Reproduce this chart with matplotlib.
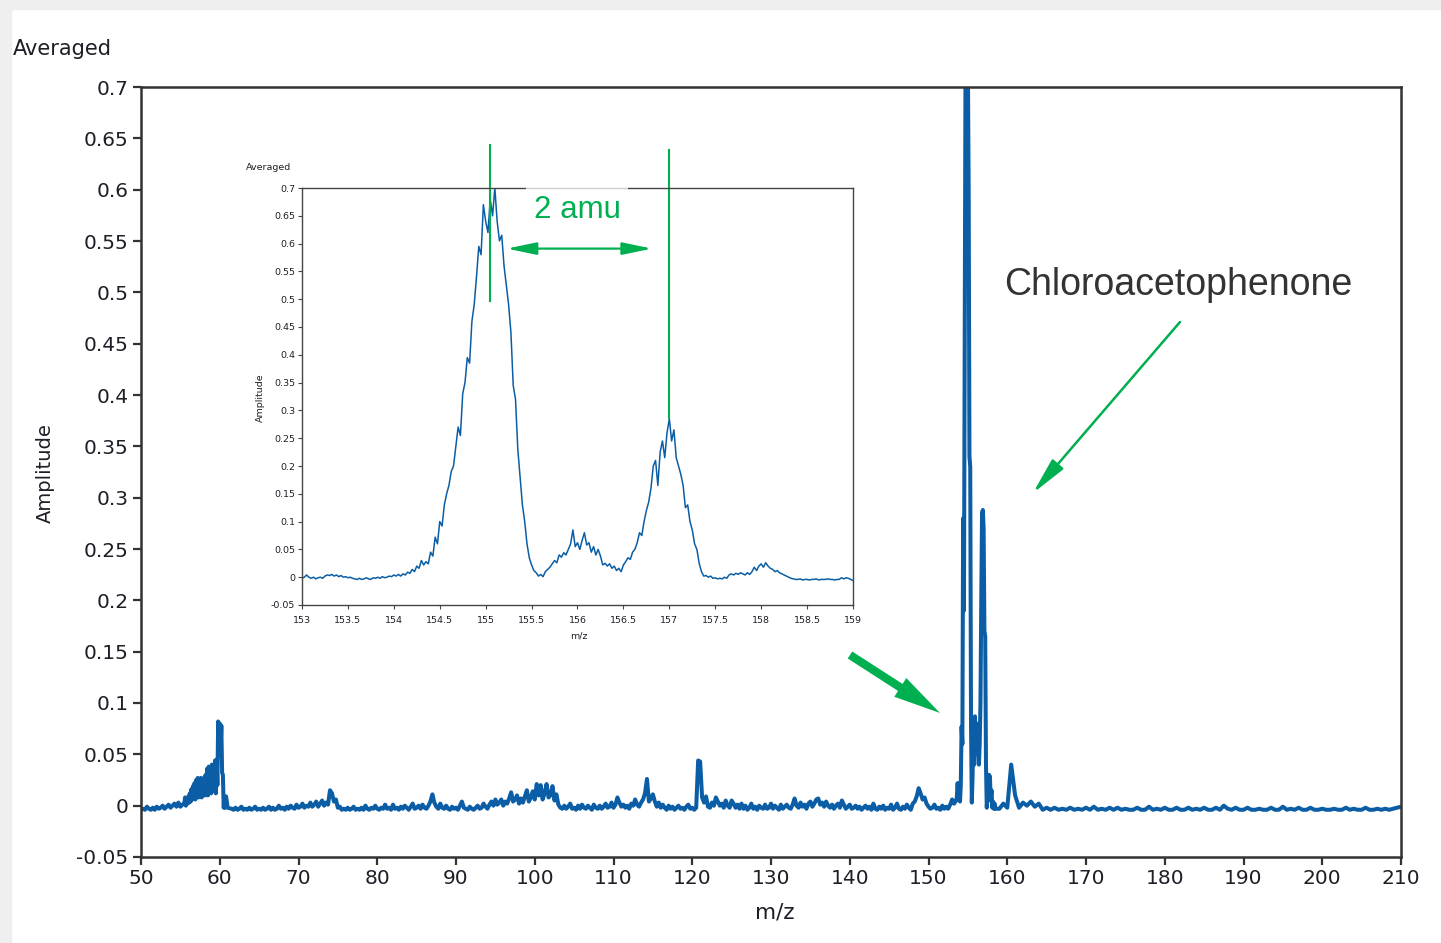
import numpy as np
import matplotlib
matplotlib.use("Agg")
import matplotlib.pyplot as plt
from matplotlib.patches import Rectangle, FancyArrowPatch
from matplotlib.ticker import FuncFormatter, MultipleLocator

# ---- main spectrum in pieces ----
# 50 .. 55.25, step 0.25
seg_a = [-0.004, -0.003, -0.004, -0.001, -0.003, -0.004, -0.002, -0.004, -0.001, -0.003,
         -0.002, 0.000, -0.003, -0.001, 0.001, -0.002, 0.000, 0.002, -0.001, 0.003,
         -0.001, 0.001]
# 55.5 .. 61.0, step 0.1 (hump + peak near 60)
seg_b = [0.002, 0.008, 0.000, 0.006, 0.002, 0.009, 0.003, 0.012, 0.004, 0.016,
         0.006, 0.019, 0.008, 0.022, 0.006, 0.025, 0.010, 0.027, 0.008, 0.026,
         0.012, 0.027, 0.008, 0.025, 0.012, 0.027, 0.010, 0.030, 0.014, 0.036,
         0.010, 0.038, 0.016, 0.034, 0.012, 0.040, 0.014, 0.032, 0.016, 0.044,
         0.012, 0.045, 0.020, 0.082, 0.060, 0.080, 0.050, 0.078, 0.032, 0.030,
         -0.002, 0.006, -0.002, 0.009, 0.004, -0.002]
# 61.5 .. 153.5, step 0.25
seg_c = [
    -0.003, -0.004, -0.002, -0.004, -0.003, -0.001, -0.004, -0.003, -0.004, -0.002,
    -0.004, -0.003, -0.001, -0.004, -0.003, -0.004, -0.002, -0.004, -0.003, -0.001,
    -0.004, -0.002, -0.004, -0.003, 0.000, -0.003, -0.002, -0.004, -0.001, -0.003,
    0.000, -0.002, -0.003, 0.001, -0.002, -0.001, 0.002, -0.002, 0.000, -0.001,
    0.003, -0.001, 0.001, 0.004, -0.001, 0.002, 0.005, 0.000, 0.003, 0.001,
    0.015, 0.012, 0.004, 0.006, -0.002, -0.001, -0.004, -0.003, -0.004, -0.002,
    -0.004, -0.003, -0.001, -0.004, -0.003, -0.004, -0.002, -0.004, 0.000, -0.003,
    -0.004, -0.002, -0.003, 0.000, -0.003, -0.004, -0.002, -0.003, 0.001, -0.003,
    -0.002, -0.004, 0.001, -0.003, -0.002, -0.004, -0.001, -0.003, 0.000, -0.002,
    -0.004, -0.001, 0.002, -0.003, -0.002, 0.000, -0.003, 0.001, -0.002, -0.003,
    0.000, 0.004, 0.011, 0.003, -0.001, -0.003, 0.002, -0.002, -0.003, 0.000,
    -0.003, -0.004, -0.001, -0.003, -0.002, -0.004, 0.000, 0.004, -0.002, -0.003,
    -0.004, -0.001, -0.003, -0.004, -0.002, 0.000, -0.003, -0.002, 0.002, -0.001,
    -0.003, 0.001, 0.004, 0.000, 0.006, 0.001, 0.003, 0.006, 0.000, 0.004,
    0.002, 0.007, 0.013, 0.004, 0.006, 0.010, 0.002, 0.007, 0.003, 0.009,
    0.015, 0.004, 0.008, 0.014, 0.006, 0.021, 0.010, 0.020, 0.006, 0.012,
    0.021, 0.008, 0.010, 0.019, 0.005, 0.011, 0.001, -0.002, -0.003, 0.000,
    -0.003, -0.001, 0.002, -0.003, -0.002, -0.004, 0.000, -0.003, 0.001, -0.002,
    -0.003, 0.000, -0.002, -0.004, 0.001, -0.002, -0.003, 0.000, -0.003, -0.001,
    0.002, -0.002, -0.001, 0.003, -0.002, 0.001, 0.008, 0.003, -0.001, 0.001,
    -0.002, 0.000, -0.003, 0.002, 0.000, 0.006, 0.001, -0.001, 0.003, 0.006,
    0.012, 0.026, 0.004, 0.007, 0.011, 0.004, -0.001, 0.003, -0.002, 0.001,
    -0.002, -0.004, 0.000, -0.003, -0.001, -0.004, -0.002, 0.000, -0.003, -0.002,
    -0.004, -0.001, 0.001, -0.003, -0.002, -0.004, -0.002, 0.044, 0.043, 0.008,
    0.003, 0.009, -0.001, -0.002, 0.003, 0.000, 0.008, 0.004, 0.000, 0.002,
    -0.002, 0.005, 0.000, -0.002, 0.005, 0.002, -0.002, 0.001, -0.003, 0.002,
    -0.003, 0.000, -0.004, -0.002, 0.002, -0.003, -0.001, -0.004, 0.000, -0.002,
    -0.003, 0.001, -0.003, -0.002, 0.002, -0.003, 0.000, -0.002, -0.004, 0.001,
    -0.003, -0.001, 0.001, -0.002, -0.003, 0.001, 0.007, 0.000, -0.002, 0.003,
    -0.001, 0.001, -0.003, 0.002, 0.004, -0.001, 0.002, 0.006, 0.007, 0.001,
    0.003, -0.001, 0.004, 0.000, -0.002, 0.001, -0.003, 0.000, 0.002, -0.002,
    0.005, 0.001, -0.003, -0.001, 0.001, -0.003, -0.002, 0.000, -0.003, -0.001,
    -0.004, -0.002, 0.000, -0.003, -0.001, -0.004, 0.002, -0.003, -0.004, -0.001,
    -0.003, 0.000, -0.004, -0.002, -0.003, 0.001, -0.004, -0.002, 0.002, -0.003,
    -0.004, -0.001, -0.003, 0.001, -0.002, -0.004, 0.002, 0.004, 0.009, 0.017,
    0.012, 0.006, 0.008, 0.002, -0.001, -0.003, -0.002, 0.001, -0.003, -0.002,
    -0.004, 0.000, -0.003, -0.001, -0.003, 0.001, 0.006, 0.002, 0.005]
# 153.6 .. 158.5, step 0.1 (chloroacetophenone cluster)
seg_d = [0.008, 0.022, 0.006, 0.010, 0.004, 0.020, 0.077, 0.060, 0.280, 0.190,
         0.450, 0.720, 0.720, 0.700, 0.720, 0.600, 0.340, 0.330, 0.080, 0.003,
         0.030, 0.085, 0.040, 0.087, 0.060, 0.080, 0.050, 0.064, 0.040, 0.060,
         0.100, 0.200, 0.285, 0.288, 0.270, 0.170, 0.165, 0.040, -0.002, 0.010,
         0.005, 0.030, 0.028, 0.006, 0.015, -0.002, 0.004, -0.003, 0.002, -0.003]
# 159 .. 210, step 0.5
seg_e = [-0.003, 0.002, -0.002, 0.040, 0.010, -0.002, 0.003, 0.000, 0.004, -0.001,
         0.002, -0.004, -0.002, -0.004, -0.002, -0.004, -0.003, -0.004, -0.002, -0.004,
         -0.003, -0.004, -0.002, -0.004, -0.001, -0.004, -0.003, -0.004, -0.002, -0.004,
         -0.002, -0.004, -0.003, -0.004, -0.004, -0.002, -0.004, -0.004, -0.001, -0.004,
         -0.003, -0.004, -0.002, -0.004, -0.004, -0.002, -0.004, -0.004, -0.002, -0.004,
         -0.003, -0.004, -0.002, -0.004, -0.004, -0.002, -0.004, 0.000, -0.003, -0.004,
         -0.002, -0.004, -0.004, -0.002, -0.004, -0.004, -0.003, -0.004, -0.004, -0.002,
         -0.004, -0.004, -0.001, -0.004, -0.003, -0.004, -0.002, -0.004, -0.004, -0.002,
         -0.004, -0.004, -0.003, -0.004, -0.004, -0.003, -0.004, -0.004, -0.002, -0.004,
         -0.003, -0.004, -0.004, -0.002, -0.004, -0.004, -0.003, -0.004, -0.003, -0.004,
         -0.003, -0.002, -0.001]

# ---- inset: 153 .. 159, step 0.025 ----
inset_amp = [
    -0.002, 0.000, 0.004, 0.000, -0.002, 0.000, -0.003, -0.001,
    0.000, -0.002, 0.002, 0.004, 0.003, 0.005, 0.002, 0.004,
    0.001, 0.003, 0.000, 0.001, -0.001, 0.000, -0.002, -0.003,
    -0.004, -0.002, -0.004, -0.003, -0.001, -0.003, -0.004, -0.001,
    -0.002, 0.000, -0.002, 0.001, -0.001, 0.000, 0.002, 0.001,
    0.004, 0.002, 0.005, 0.002, 0.006, 0.004, 0.009, 0.007,
    0.014, 0.010, 0.020, 0.016, 0.030, 0.022, 0.028, 0.024,
    0.045, 0.038, 0.072, 0.060, 0.100, 0.092, 0.130, 0.150,
    0.165, 0.190, 0.200, 0.235, 0.270, 0.255, 0.330, 0.350,
    0.395, 0.385, 0.460, 0.490, 0.540, 0.595, 0.580, 0.670,
    0.640, 0.620, 0.680, 0.650, 0.700, 0.640, 0.605, 0.615,
    0.560, 0.525, 0.490, 0.440, 0.345, 0.320, 0.230, 0.180,
    0.130, 0.100, 0.060, 0.035, 0.022, 0.012, 0.008, 0.002,
    0.005, 0.001, 0.010, 0.014, 0.018, 0.024, 0.030, 0.026,
    0.040, 0.036, 0.044, 0.040, 0.050, 0.060, 0.085, 0.055,
    0.062, 0.050, 0.066, 0.080, 0.058, 0.062, 0.045, 0.055,
    0.040, 0.050, 0.038, 0.022, 0.025, 0.020, 0.024, 0.016,
    0.020, 0.012, 0.016, 0.010, 0.022, 0.028, 0.035, 0.032,
    0.045, 0.050, 0.062, 0.080, 0.075, 0.100, 0.120, 0.135,
    0.160, 0.200, 0.210, 0.165, 0.225, 0.245, 0.215, 0.260,
    0.285, 0.245, 0.265, 0.215, 0.200, 0.185, 0.165, 0.125,
    0.130, 0.100, 0.085, 0.060, 0.050, 0.025, 0.010, 0.002,
    0.003, 0.000, 0.002, -0.002, -0.001, -0.003, -0.002, -0.003,
    0.000, -0.002, 0.004, 0.006, 0.004, 0.007, 0.005, 0.008,
    0.006, 0.004, 0.008, 0.005, 0.010, 0.018, 0.012, 0.020,
    0.024, 0.018, 0.026, 0.020, 0.016, 0.014, 0.010, 0.012,
    0.008, 0.006, 0.004, 0.002, 0.000, -0.002, -0.003, -0.004,
    -0.004, -0.003, -0.005, -0.004, -0.004, -0.005, -0.004, -0.004,
    -0.003, -0.005, -0.004, -0.004, -0.004, -0.003, -0.004, -0.004,
    -0.005, -0.004, -0.004, -0.001, -0.003, -0.001, -0.002, -0.004,
    -0.006]

peak_a = 155.05   # marked isotope peaks in the inset
peak_b = 157.0


def grid(start, step, vals):
    return start + step * np.arange(len(vals))


main_mz = np.concatenate([grid(50, 0.25, seg_a), grid(55.5, 0.1, seg_b),
                          grid(61.5, 0.25, seg_c), grid(153.6, 0.1, seg_d),
                          grid(159, 0.5, seg_e)])
main_amp = np.concatenate([seg_a, seg_b, seg_c, seg_d, seg_e])
inset_mz = grid(153, 0.025, inset_amp)

W, H = 1441, 943
BLUE = "#0b5ea5"
GREEN = "#00b050"
INK = "#1e1e28"


def fpx(x, y):
    # pixel position -> figure fraction
    return x / W, 1 - y / H


def g(v, pos=None):
    s = f"{round(v, 3):g}"
    return "0" if s == "-0" else s


fig = plt.figure(figsize=(W / 100, H / 100), dpi=100)
fig.patch.set_facecolor("white")
fig.patches.append(Rectangle((0, 1 - 9 / H), 1, 9 / H, transform=fig.transFigure,
                             color="#efefef", zorder=0))
fig.patches.append(Rectangle((0, 0), 11 / W, 1, transform=fig.transFigure,
                             color="#efefef", zorder=0))

# main axes
ax = fig.add_axes([141 / W, 1 - 857 / H, 1260 / W, 770 / H])
ax.plot(main_mz, main_amp, color=BLUE, lw=2.9)
ax.set_xlim(50, 210)
ax.set_ylim(-0.05, 0.7)
ax.xaxis.set_major_locator(MultipleLocator(10))
ax.yaxis.set_major_locator(MultipleLocator(0.05))
ax.xaxis.set_major_formatter(FuncFormatter(g))
ax.yaxis.set_major_formatter(FuncFormatter(g))
ax.tick_params(direction="out", length=6, width=1.6, colors="#333333",
               labelcolor=INK, labelsize=14.5, pad=3)
for sp in ax.spines.values():
    sp.set_color("#333333")
    sp.set_linewidth(1.8)

fig.text(*fpx(13, 49), "Averaged", ha="left", va="center", fontsize=15, color=INK)
fig.text(*fpx(45, 473), "Amplitude", ha="center", va="center", rotation=90,
         fontsize=14, color=INK)
fig.text(*fpx(775, 912), "m/z", ha="center", va="center", fontsize=15.5, color=INK)

# inset axes
ins = fig.add_axes([302 / W, 1 - 605 / H, 551 / W, 417 / H])
ins.set_facecolor("white")
ins.plot(inset_mz, inset_amp, color=BLUE, lw=1.1)
ins.set_xlim(153, 159)
ins.set_ylim(-0.05, 0.7)
ins.xaxis.set_major_locator(MultipleLocator(0.5))
ins.yaxis.set_major_locator(MultipleLocator(0.05))
ins.xaxis.set_major_formatter(FuncFormatter(g))
ins.yaxis.set_major_formatter(FuncFormatter(g))
ins.tick_params(direction="out", length=3, width=0.8, colors="#444444",
                labelcolor=INK, labelsize=6.8, pad=2)
ins.tick_params(axis="x", pad=5)
for sp in ins.spines.values():
    sp.set_color("#444444")
    sp.set_linewidth(1.0)

fig.text(*fpx(246, 168), "Averaged", ha="left", va="center", fontsize=6.8, color=INK)
fig.text(*fpx(260, 398), "Amplitude", ha="center", va="center", rotation=90,
         fontsize=6.8, color=INK)
fig.text(*fpx(579, 636), "m/z", ha="center", va="center", fontsize=6.8, color=INK)

# isotope spacing markers
ins.plot([peak_a, peak_a], [0.496, 0.778], color=GREEN, lw=1.5, clip_on=False)
ins.plot([peak_b, peak_b], [0.287, 0.769], color=GREEN, lw=1.5, clip_on=False)
ins.annotate("", xy=(156.81, 0.591), xytext=(155.23, 0.591),
             arrowprops=dict(arrowstyle="<|-|>,head_length=1.2,head_width=0.25",
                             mutation_scale=15, color=GREEN, lw=1.6,
                             shrinkA=0, shrinkB=0))
fig.text(*fpx(577, 210), "2 amu", ha="center", va="center", fontsize=22.5,
         color=GREEN, family="Liberation Sans",
         bbox=dict(boxstyle="square,pad=0.25", fc="white", ec="none", alpha=0.75))

# compound label and arrows
fig.text(*fpx(1178, 285), "Chloroacetophenone", ha="center", va="center",
         fontsize=27, color="#333333", family="Liberation Sans")
fig.add_artist(FancyArrowPatch(
    fpx(1180, 322), fpx(1033, 493), transform=fig.transFigure,
    arrowstyle="-|>,head_length=1.6,head_width=0.32", mutation_scale=14,
    color=GREEN, lw=1.8, shrinkA=0, shrinkB=0))
fig.add_artist(FancyArrowPatch(
    fpx(850, 655), fpx(940, 713), transform=fig.transFigure,
    arrowstyle="simple,head_length=3.4,head_width=1.6,tail_width=0.6",
    mutation_scale=10, color=GREEN, lw=0, shrinkA=0, shrinkB=0))

fig.savefig("out.png", dpi=100)
